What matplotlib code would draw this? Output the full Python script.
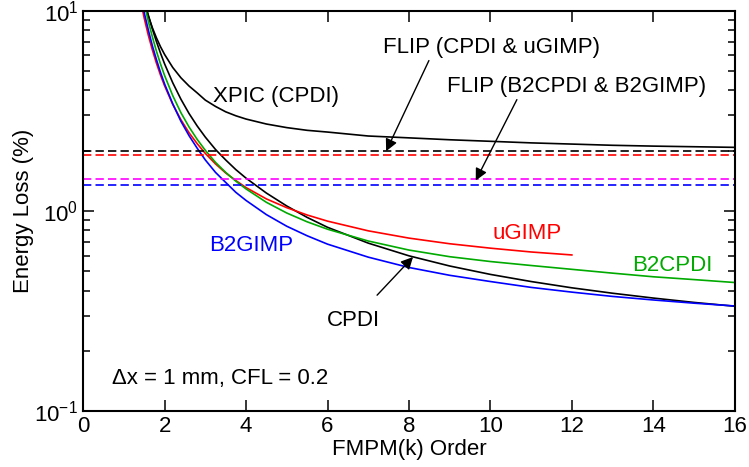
import numpy as np
import matplotlib
matplotlib.use('Agg')
import matplotlib.pyplot as plt

plt.rcParams['font.family'] = ['Liberation Sans', 'DejaVu Sans']
plt.rcParams['mathtext.default'] = 'regular'

# FMPM(k) order, values
k = [1.4, 1.5, 1.6, 1.7, 1.8, 1.9, 2.0, 2.2, 2.4, 2.6, 2.8, 3.0, 3.25, 3.5, 3.75, 4.0,
     4.5, 5.0, 5.5, 6, 7, 8, 9, 10, 11, 12, 13, 14, 15, 16]
b2gimp = [12.2, 9.77, 8.02, 6.68, 5.70, 4.92, 4.31, 3.43, 2.81, 2.38, 2.06, 1.80, 1.56, 1.39, 1.24, 1.13,
          0.96, 0.84, 0.753, 0.684, 0.589, 0.523, 0.478, 0.445, 0.416, 0.394, 0.375, 0.36, 0.347, 0.336]
b2cpdi = [13.8, 10.9, 8.87, 7.40, 6.28, 5.42, 4.75, 3.77, 3.10, 2.63, 2.28, 2.01, 1.75, 1.56, 1.41, 1.29,
          1.106, 0.978, 0.884, 0.812, 0.709, 0.639, 0.592, 0.56, 0.535, 0.512, 0.49, 0.47, 0.455, 0.44]
cpdi = [13.8, 11.35, 9.51, 8.11, 7.01, 6.14, 5.43, 4.37, 3.62, 3.07, 2.66, 2.34, 2.03, 1.80, 1.61, 1.46,
        1.23, 1.06, 0.93, 0.83, 0.692, 0.598, 0.532, 0.483, 0.445, 0.414, 0.389, 0.368, 0.35, 0.335]

k_u = k[:26]
ugimp = [11.5, 9.18, 7.55, 6.37, 5.47, 4.77, 4.22, 3.41, 2.86, 2.46, 2.17, 1.94, 1.72, 1.55, 1.42, 1.31,
         1.15, 1.04, 0.956, 0.891, 0.797, 0.733, 0.687, 0.653, 0.625, 0.604]

k_x = k[1:]
xpic = [11.0, 9.42, 8.22, 7.32, 6.61, 6.05, 5.21, 4.63, 4.21, 3.89, 3.58, 3.33, 3.13, 2.99, 2.88,
        2.72, 2.61, 2.53, 2.48, 2.37, 2.32, 2.27, 2.23, 2.19, 2.16, 2.13, 2.11, 2.095, 2.08]

# FLIP levels (constant)
flip_cpdi = 1.99
flip_ugimp = 1.91
flip_b2cpdi = 1.446
flip_b2gimp = 1.345

green = '#00aa00'

fig = plt.figure(figsize=(7.49, 4.67), dpi=100)
ax = fig.add_axes([0.111, 0.119, 0.870, 0.858])

lw = 1.2
ax.plot(k_x, xpic, color='k', lw=lw)
ax.plot(k, cpdi, color='k', lw=lw)
ax.plot(k_u, ugimp, color='red', lw=lw)
ax.plot(k, b2cpdi, color=green, lw=lw)
ax.plot(k, b2gimp, color='blue', lw=lw)

dash = (5, 2.5)
ax.axhline(flip_cpdi, color='k', lw=lw, dashes=dash)
ax.axhline(flip_ugimp, color='red', lw=lw, dashes=dash)
ax.axhline(flip_b2cpdi, color='magenta', lw=lw, dashes=dash)
ax.axhline(flip_b2gimp, color='blue', lw=lw, dashes=dash)

ax.set_yscale('log')
ax.set_xlim(0, 16)
ax.set_ylim(0.1, 10)
ax.set_xticks(range(0, 17, 2))
ax.set_yticks([0.1, 1, 10])
ax.set_yticklabels(['$10^{-1}$', '$10^{0}$', '$10^{1}$'])
ax.tick_params(which='both', direction='in', top=True, right=True, labelsize=16, width=1.1)
ax.tick_params(which='major', length=8)
ax.tick_params(which='minor', length=5)
ax.tick_params(axis='x', which='minor', bottom=False, top=False)
for s in ax.spines.values():
    s.set_linewidth(1.5)

ax.set_xlabel('FMPM(k) Order', fontsize=16, labelpad=1)
ax.set_ylabel('Energy Loss (%)', fontsize=16, labelpad=0)

fs = 16
ax.text(3.19, 3.73, 'XPIC (CPDI)', fontsize=fs, va='center')
ax.text(7.36, 6.55, 'FLIP (CPDI & uGIMP)', fontsize=fs, va='center')
ax.text(8.93, 4.19, 'FLIP (B2CPDI & B2GIMP)', fontsize=fs, va='center')
ax.text(10.06, 0.777, 'uGIMP', fontsize=fs, va='center', color='red')
ax.text(13.47, 0.532, 'B2CPDI', fontsize=fs, va='center', color=green)
ax.text(3.09, 0.67, 'B2GIMP', fontsize=fs, va='center', color='blue')
ax.text(0.71, 0.146, 'Δx = 1 mm, CFL = 0.2', fontsize=fs, va='center')

ap = dict(arrowstyle='-|>', color='k', lw=1, mutation_scale=18, shrinkA=0, shrinkB=0)
ax.annotate('', xy=(7.44, 1.99), xytext=(8.49, 5.64), arrowprops=ap)
ax.annotate('', xy=(9.64, 1.42), xytext=(10.65, 3.6), arrowprops=ap)
ax.annotate('CPDI', xy=(8.1, 0.59), xytext=(6.63, 0.284), fontsize=fs,
            ha='center', va='center', arrowprops=dict(ap, shrinkA=12))

fig.savefig('out.png', dpi=100)
